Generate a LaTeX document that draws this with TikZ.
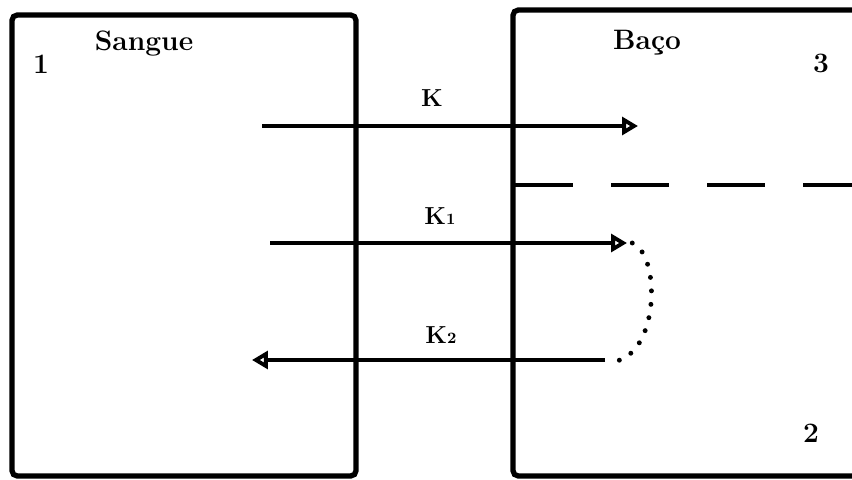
\documentclass[tikz,border=0pt]{standalone}
\usepackage{tikz}
\usetikzlibrary{arrows.meta}

\begin{document}
\begin{tikzpicture}[
  box/.style={line width=3pt, rounded corners=3pt},
  flow/.style={line width=2.3pt, -{Triangle[open, length=9pt, width=10pt, line width=2.2pt]}},
  big/.style={font=\bfseries\fontsize{16}{18}\selectfont, anchor=base},
  rate/.style={font=\bfseries\fontsize{14}{16}\selectfont, anchor=base}]
  \useasboundingbox (0,0) rectangle (17.04,9.58);
  % blood compartment
  \draw[box] (0.24,0.06) rectangle (7.12,9.28);
  \node[big] (sangue) at (2.88,8.56) {Sangue};
  \node[big] (c1) at (0.82,8.1) {1};
  % spleen compartment (open on the right)
  \draw[box] (17.3,9.38) -- (10.26,9.38) -- (10.26,0.06) -- (17.3,0.06);
  \node[big] (baco) at (12.94,8.58) {Baço};
  \node[big] (c3) at (16.42,8.12) {3};
  \node[big] (c2) at (16.22,0.74) {2};
  \draw[line width=2.6pt, dash pattern=on 1.16cm off 0.76cm] (10.3,5.88) -- (17.2,5.88);
  % transfer arrows
  \coordinate (kin) at (5.24,7.06);
  \coordinate (kout) at (12.76,7.06);
  \coordinate (kain) at (5.4,4.72);
  \coordinate (kaout) at (12.54,4.72);
  \coordinate (kbin) at (12.1,2.38);
  \coordinate (kbout) at (5.04,2.38);
  \coordinate (back) at (12.34,2.36);
  \draw[flow] (kin) -- (kout);
  \node[rate] (k) at (8.64,7.44) {K};
  \draw[flow] (kain) -- (kaout);
  \node[rate] (ka) at (8.8,5.08) {K{\small 1}};
  \draw[flow] (kbin) -- (kbout);
  \node[rate] (kb) at (8.82,2.72) {K{\small 2}};
  % return path inside the spleen
  \draw[line width=2.8pt, line cap=round, dash pattern=on 0pt off 0.27cm]
    ([xshift=3pt]kaout) .. controls (13.2,4.5) and (13.2,2.6) .. (back);
\end{tikzpicture}
\end{document}
